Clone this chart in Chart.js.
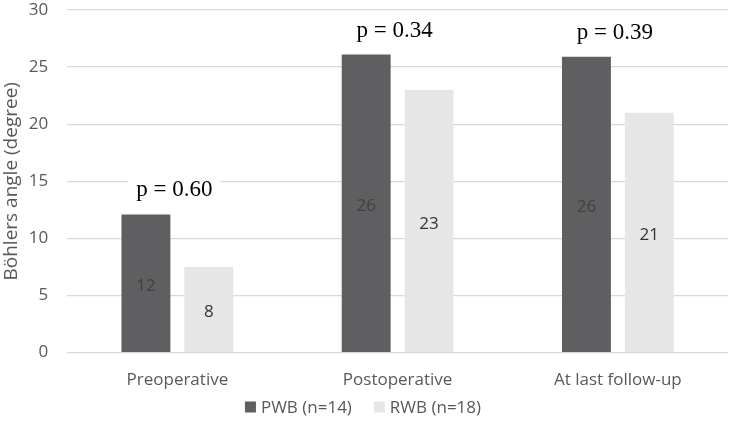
<!DOCTYPE html>
<html>
<head>
<meta charset="utf-8">
<script src="https://cdn.jsdelivr.net/npm/chart.js@4/dist/chart.umd.min.js"></script>
<style>
  html, body { margin: 0; padding: 0; background: #fff; }
  #wrap { width: 732px; height: 430px; }
</style>
</head>
<body>
<div id="wrap"><canvas id="chart"></canvas></div>
<script>
// data
const categories = ['Preoperative', 'Postoperative', 'At last follow-up'];
const pwbValues = [12.1, 26.1, 25.9];
const rwbValues = [7.5, 23.0, 21.0];
const pwbLabels = ['12', '26', '26'];
const rwbLabels = ['8', '23', '21'];
const pValues = ['p = 0.60', 'p = 0.34', 'p = 0.39'];
const yTicks = [0, 5, 10, 15, 20, 25, 30];

const grey = '#595959';
const sans = '"Open Sans", sans-serif';

// bar value labels, centred in each bar
const barLabels = {
  id: 'barLabels',
  afterDatasetsDraw(chart) {
    const ctx = chart.ctx;
    const texts = [pwbLabels, rwbLabels];
    const colors = ['#404040', '#333333'];
    ctx.save();
    ctx.font = '17px ' + sans;
    ctx.textAlign = 'center';
    ctx.textBaseline = 'middle';
    chart.data.datasets.forEach((ds, i) => {
      chart.getDatasetMeta(i).data.forEach((bar, j) => {
        ctx.fillStyle = colors[i];
        ctx.fillText(texts[i][j], bar.x, (bar.y + bar.base) / 2 + 3);
      });
    });
    ctx.restore();
  }
};

// p value above each group, white box breaks the gridline
const pLabels = {
  id: 'pLabels',
  afterDatasetsDraw(chart) {
    const ctx = chart.ctx;
    const xs = chart.scales.x;
    const ys = chart.scales.y;
    ctx.save();
    ctx.font = '23px "Liberation Serif", "Times New Roman", serif';
    ctx.textAlign = 'center';
    ctx.textBaseline = 'middle';
    categories.forEach((c, j) => {
      const top = Math.max(pwbValues[j], rwbValues[j]);
      const x = xs.getPixelForValue(j) - 3;
      const y = ys.getPixelForValue(top) - 24;
      const w = ctx.measureText(pValues[j]).width;
      ctx.fillStyle = '#fff';
      ctx.fillRect(x - w / 2 - 8, y - 11, w + 16, 22);
      ctx.fillStyle = '#000';
      ctx.fillText(pValues[j], x, y);
    });
    ctx.restore();
  }
};

// legend drawn by hand so it can sit close under the axis labels
const bottomLegend = {
  id: 'bottomLegend',
  afterDraw(chart) {
    const ctx = chart.ctx;
    const dsets = chart.data.datasets;
    const box = 11, gap = 5, itemGap = 22;
    const y = 407;
    ctx.save();
    ctx.font = '17px ' + sans;
    ctx.textBaseline = 'middle';
    const widths = dsets.map(d => box + gap + ctx.measureText(d.label).width);
    const total = widths.reduce((a, b) => a + b, 0) + itemGap * (dsets.length - 1);
    let x = chart.width / 2 - total / 2 - 3;
    dsets.forEach((d, i) => {
      ctx.fillStyle = d.backgroundColor;
      ctx.fillRect(x, y - box / 2, box, box);
      ctx.fillStyle = grey;
      ctx.fillText(d.label, x + box + gap, y + 1);
      x += widths[i] + itemGap;
    });
    ctx.restore();
  }
};

new Chart(document.getElementById('chart'), {
  type: 'bar',
  data: {
    labels: categories,
    datasets: [
      { label: 'PWB (n=14)', data: pwbValues, backgroundColor: '#5f5f61',
        categoryPercentage: 0.571, barPercentage: 0.778 },
      { label: 'RWB (n=18)', data: rwbValues, backgroundColor: '#e6e6e6',
        categoryPercentage: 0.571, barPercentage: 0.778 }
    ]
  },
  options: {
    responsive: true,
    maintainAspectRatio: false,
    animation: false,
    layout: { padding: { top: 0, right: 4, left: 0, bottom: 31 } },
    plugins: {
      legend: { display: false },
      tooltip: { enabled: false }
    },
    scales: {
      x: {
        grid: { display: false },
        border: { display: false },
        ticks: { color: grey, font: { size: 17, family: sans }, padding: 9 }
      },
      y: {
        min: 0, max: 30,
        afterBuildTicks(axis) { axis.ticks = yTicks.map(v => ({ value: v })); },
        grid: { color: '#d9d9d9', lineWidth: 1.3, drawTicks: true, tickLength: 17, tickColor: 'rgba(0,0,0,0)' },
        border: { display: false },
        ticks: { color: grey, font: { size: 17, family: sans, lineHeight: 0.94 }, padding: 2 },
        title: {
          display: true, text: 'Böhlers angle (degree)',
          color: grey, font: { size: 19, family: sans }, padding: { top: 0, bottom: 4 }
        }
      }
    }
  },
  plugins: [barLabels, pLabels, bottomLegend]
});
</script>
</body>
</html>
